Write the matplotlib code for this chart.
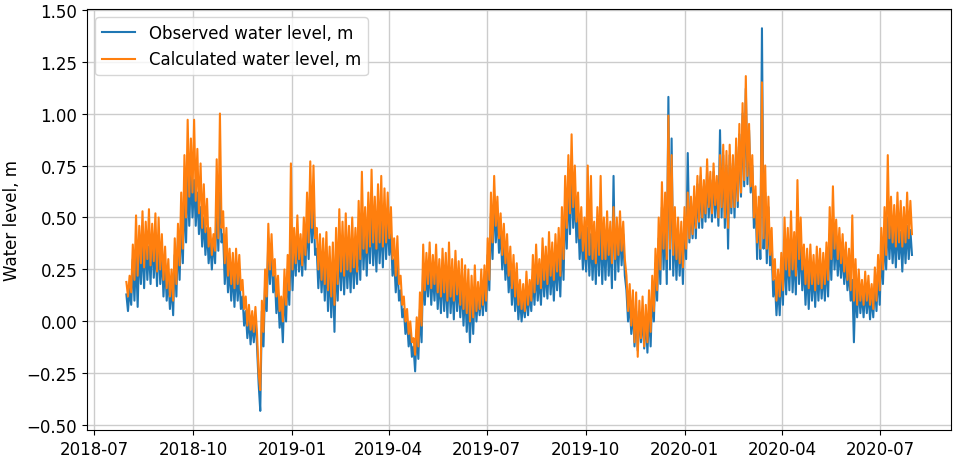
import numpy as np
import pandas as pd
import matplotlib
matplotlib.use("Agg")
import matplotlib.pyplot as plt
import matplotlib.dates as mdates

# 3-day samples from 2018-07-31, upper / lower envelope of each series (m)
start = "2018-07-31"

calc_hi = [
    .19, .22, .37, .51, .46, .53, .48, .54, .47, .52,
    .50, .42, .36, .30, .25, .40, .47, .62, .80, .97,
    .88, .97, .83, .76, .66, .59, .45, .42, .78, 1.00,
    .53, .45, .35, .33, .35, .32, .20, .12, .08, .05,
    .07, -.25, .10, .25, .47, .42, .30, .22, .12, .25,
    .32, .76, .45, .51, .42, .50, .62, .77, .75, .45,
    .42, .40, .43, .36, .38, .45, .54, .48, .52, .46,
    .50, .45, .58, .72, .55, .62, .73, .60, .66, .70,
    .64, .62, .55, .40, .41, .22, .12, .06, .00, -.08,
    .02, .14, .37, .33, .38, .32, .37, .30, .35, .33,
    .38, .30, .34, .29, .30, .27, .25, .22, .27, .19,
    .25, .27, .40, .62, .70, .60, .52, .47, .42, .36,
    .32, .28, .20, .18, .24, .20, .32, .37, .30, .40,
    .36, .43, .38, .42, .45, .55, .70, .80, .90, .75,
    .62, .55, .50, .75, .70, .48, .55, .70, .50, .53,
    .48, .55, .50, .53, .48, .22, .18, .15, .14, .10,
    .12, .08, .15, .22, .35, .50, .67, .62, .99, .80,
    .55, .50, .48, .55, .62, .60, .65, .70, .74, .68,
    .78, .72, .76, .70, .80, .85, .82, .85, .80, .88,
    .95, 1.05, 1.18, .95, .80, .65, .60, 1.15, .75, .60,
    .45, .30, .25, .33, .50, .45, .53, .43, .68, .50,
    .37, .35, .37, .32, .36, .35, .33, .38, .55, .65,
    .49, .45, .42, .38, .35, .51, .30, .25, .20, .24,
    .22, .18, .26, .32, .45, .55, .80, .60, .56, .62,
    .58, .55, .62, .58,
]

calc_lo = [
    .12, .14, .20, .22, .28, .26, .30, .27, .29, .24,
    .25, .20, .16, .12, .10, .18, .27, .35, .50, .60,
    .62, .58, .52, .45, .43, .36, .32, .34, .40, .45,
    .28, .22, .18, .16, .18, .15, .06, -.02, -.04, -.05,
    -.06, -.33, -.05, .12, .25, .22, .12, .05, .00, .08,
    .15, .25, .28, .30, .27, .32, .38, .45, .40, .25,
    .20, .18, .15, .12, .08, .18, .24, .22, .25, .24,
    .26, .24, .30, .35, .33, .36, .38, .35, .38, .36,
    .38, .40, .30, .22, .18, .08, .00, -.06, -.10, -.16,
    -.12, -.02, .15, .18, .16, .18, .14, .12, .14, .10,
    .12, .10, .13, .08, .06, .04, .00, .02, .05, .06,
    .08, .10, .20, .38, .46, .40, .32, .28, .22, .16,
    .12, .08, .06, .05, .08, .10, .14, .18, .16, .20,
    .18, .22, .20, .24, .22, .30, .45, .52, .55, .48,
    .40, .34, .30, .32, .30, .28, .32, .30, .30, .32,
    .28, .30, .32, .34, .30, .05, -.02, -.10, -.17, -.08,
    -.12, -.10, -.05, .05, .15, .25, .35, .30, .35, .32,
    .30, .28, .26, .35, .40, .42, .45, .48, .50, .52,
    .55, .52, .56, .50, .55, .50, .45, .55, .55, .58,
    .62, .68, .70, .65, .50, .38, .35, .40, .35, .32,
    .20, .10, .12, .15, .25, .22, .25, .22, .30, .25,
    .18, .16, .18, .15, .18, .16, .18, .20, .30, .35,
    .30, .28, .24, .20, .15, .10, .08, .10, .08, .10,
    .08, .06, .10, .15, .25, .32, .40, .38, .36, .38,
    .36, .38, .40, .42,
]

obs_hi = [
    .13, .16, .30, .32, .36, .38, .40, .36, .42, .37,
    .40, .33, .28, .22, .18, .32, .40, .50, .62, .70,
    .72, .68, .62, .55, .50, .45, .38, .40, .58, .62,
    .42, .33, .27, .25, .26, .23, .12, .05, .02, .00,
    .02, -.30, .05, .18, .40, .35, .22, .14, .06, .16,
    .25, .40, .38, .43, .36, .40, .50, .59, .55, .35,
    .32, .30, .32, .28, .25, .33, .38, .35, .36, .34,
    .38, .35, .42, .50, .45, .48, .53, .46, .50, .48,
    .52, .50, .42, .30, .28, .15, .06, .00, -.05, -.12,
    -.04, .06, .27, .25, .27, .24, .26, .22, .25, .22,
    .25, .20, .24, .20, .18, .16, .12, .14, .16, .13,
    .15, .18, .32, .52, .61, .52, .44, .38, .33, .28,
    .22, .18, .12, .10, .14, .15, .22, .26, .22, .28,
    .26, .30, .27, .30, .32, .40, .58, .66, .72, .62,
    .52, .45, .40, .45, .42, .40, .44, .46, .42, .45,
    .40, .70, .44, .46, .42, .15, .10, .06, .05, .04,
    .03, .02, .05, .15, .28, .40, .55, .50, 1.08, .88,
    .45, .42, .40, .50, .81, .55, .60, .66, .70, .65,
    .72, .68, .72, .66, .92, .80, .75, .80, .76, .84,
    .90, 1.00, 1.12, .92, .75, .60, .55, 1.41, .62, .55,
    .35, .20, .18, .25, .38, .35, .40, .33, .46, .38,
    .28, .26, .28, .25, .27, .26, .25, .30, .42, .46,
    .40, .36, .33, .30, .25, .20, .18, .18, .14, .16,
    .15, .12, .18, .25, .35, .42, .50, .46, .44, .46,
    .43, .45, .46, .44,
]

obs_lo = [
    .05, .08, .10, .07, .18, .16, .20, .18, .21, .17,
    .18, .12, .10, .06, .03, .12, .20, .28, .38, .46,
    .50, .46, .42, .36, .32, .28, .25, .28, .34, .38,
    .18, .14, .10, .07, .10, .06, -.02, -.08, -.11, -.10,
    -.12, -.43, -.12, .05, .18, .14, .04, -.03, -.10, .00,
    .08, .15, .22, .24, .22, .25, .30, .38, .32, .16,
    .14, .10, .05, .02, -.05, .10, .15, .13, .16, .14,
    .16, .18, .20, .25, .22, .28, .27, .24, .28, .26,
    .30, .32, .22, .14, .10, .02, -.06, -.12, -.17, -.24,
    -.18, -.10, .08, .12, .08, .10, .06, .04, .05, .02,
    .04, .01, .05, .02, -.02, -.05, -.10, -.06, .00, .03,
    .03, .05, .15, .30, .38, .33, .25, .20, .14, .08,
    .05, .01, .00, .02, .03, .05, .08, .10, .08, .12,
    .11, .13, .10, .15, .12, .20, .35, .42, .45, .38,
    .30, .25, .24, .22, .20, .18, .22, .18, .20, .22,
    .16, .20, .24, .27, .22, .00, -.06, -.12, -.14, -.10,
    -.13, -.15, -.12, .00, .10, .18, .25, .18, .25, .22,
    .20, .22, .18, .30, .38, .40, .40, .45, .45, .48,
    .50, .48, .50, .46, .50, .45, .35, .52, .50, .55,
    .60, .65, .66, .62, .45, .30, .30, .35, .28, .27,
    .12, .03, .03, .08, .13, .15, .14, .13, .18, .15,
    .08, .06, .10, .07, .10, .11, .10, .12, .20, .25,
    .22, .21, .18, .15, .10, -.10, .02, .04, .02, .04,
    .01, .02, .05, .08, .18, .25, .30, .28, .26, .30,
    .24, .28, .30, .32,
]

days = pd.date_range(start, periods=len(obs_hi), freq="3D")


def zigzag(hi, lo):
    # high at the sample date, low half a step later
    t = np.empty(2 * len(days), dtype="datetime64[ns]")
    v = np.empty(2 * len(days))
    t[0::2] = days.values
    t[1::2] = (days + pd.Timedelta(hours=36)).values
    v[0::2] = hi
    v[1::2] = lo
    return t, v


plt.rcParams["font.size"] = 12

fig = plt.figure(figsize=(9.57, 4.6), dpi=100)
ax = fig.add_axes([0.091, 0.063, 0.903, 0.915])

t_obs, v_obs = zigzag(obs_hi, obs_lo)
t_calc, v_calc = zigzag(calc_hi, calc_lo)
ax.plot(t_obs, v_obs, color="#1f77b4", linewidth=1.5, label="Observed water level, m")
ax.plot(t_calc, v_calc, color="#ff7f0e", linewidth=1.5, label="Calculated water level, m")

ax.xaxis.set_major_locator(mdates.MonthLocator(bymonth=[1, 4, 7, 10]))
ax.xaxis.set_major_formatter(mdates.DateFormatter("%Y-%m"))
ax.set_yticks(np.arange(-0.5, 1.51, 0.25))
ax.set_ylabel("Water level, m")
ax.grid(True, color="#cccccc", linewidth=1.0)
ax.legend(loc="upper left")

fig.savefig("out.png", dpi=100)
